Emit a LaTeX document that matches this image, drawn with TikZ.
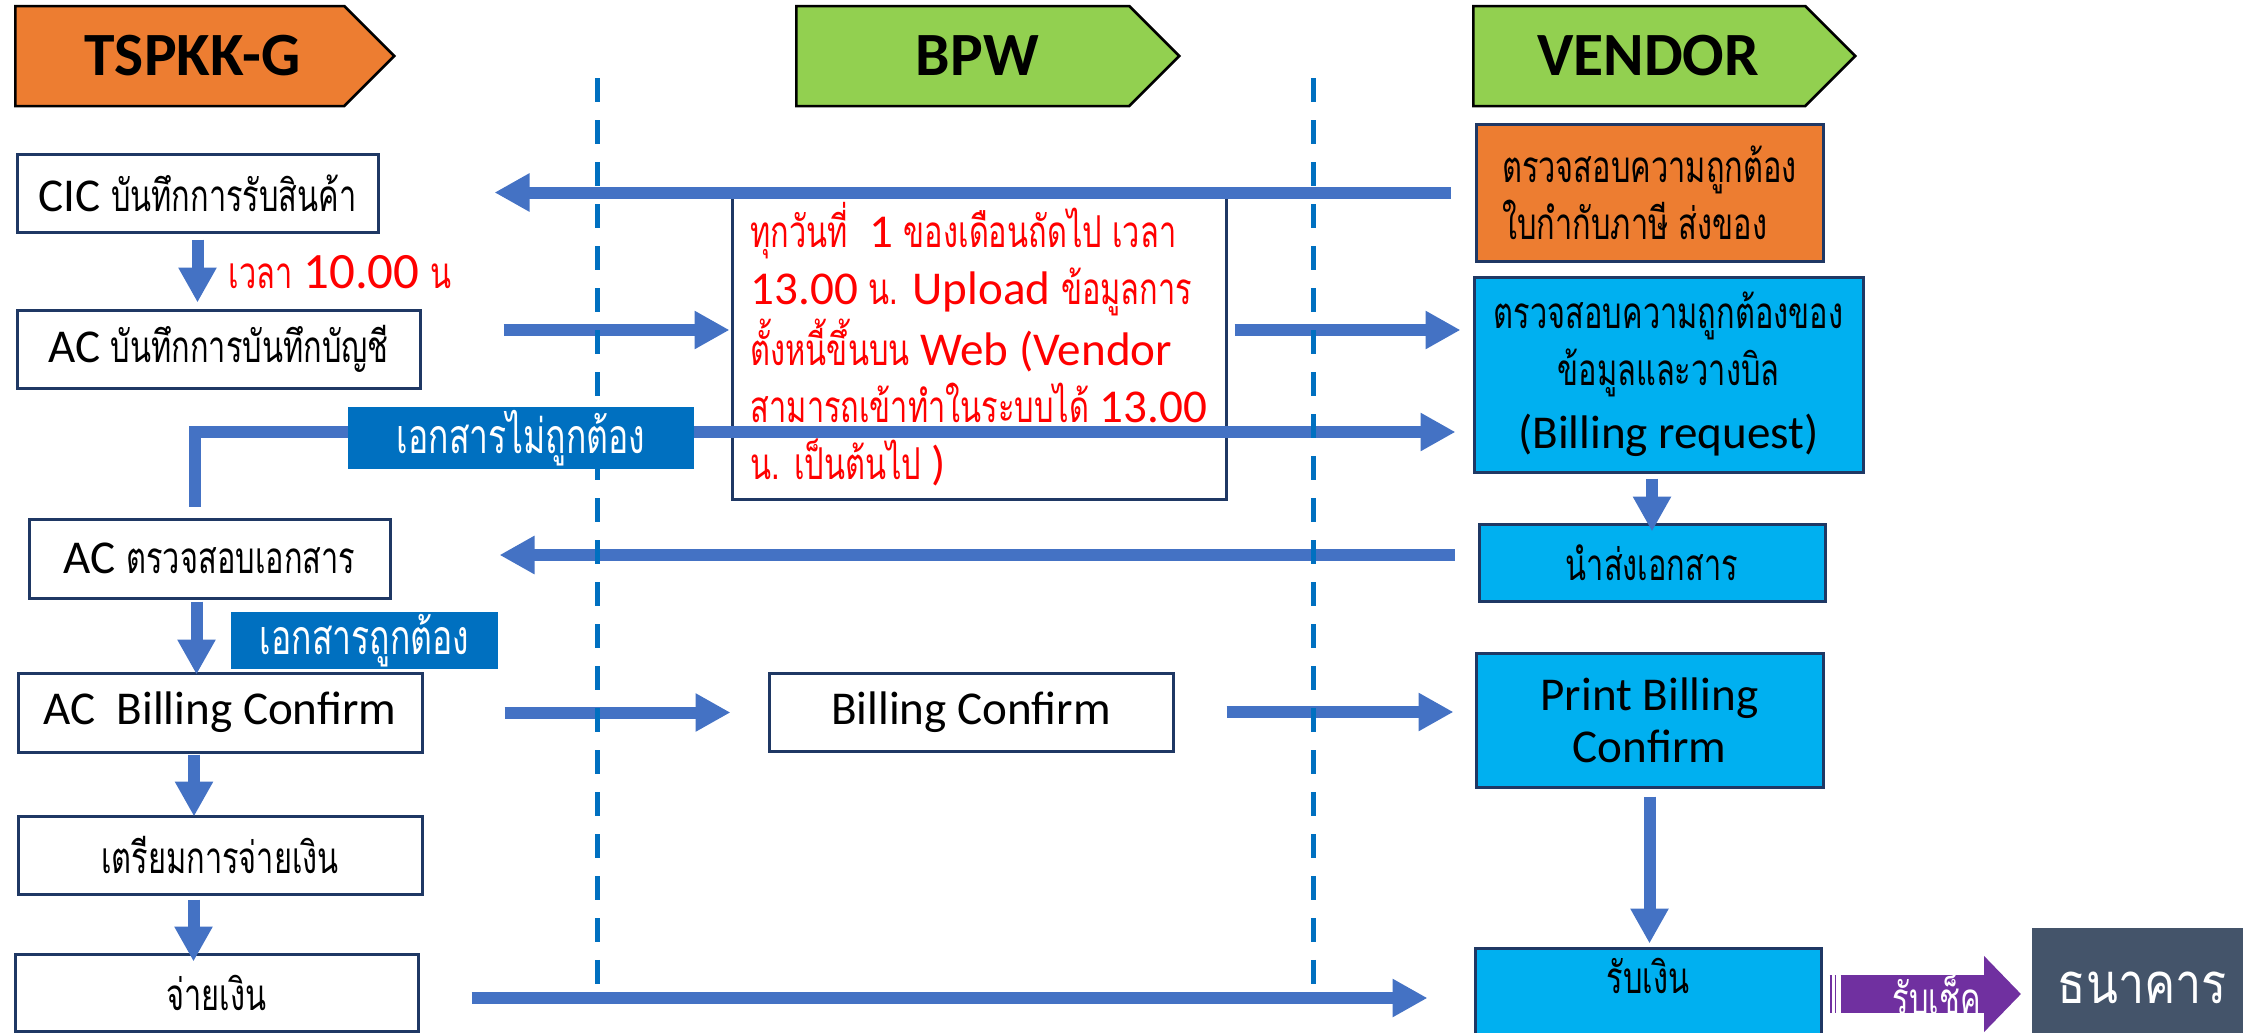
\documentclass[tikz,border=0pt]{standalone}
\usepackage{fontspec}
\setmainfont{Carlito}
\newfontfamily\thaifont[Script=Thai, FakeStretch=0.7]{Loma}
\newfontfamily\bankfont[Script=Thai, FakeStretch=0.83]{Loma}
\usepackage{tikz}
\usetikzlibrary{arrows.meta,shapes.symbols}

\definecolor{navyline}{HTML}{1F3864}
\definecolor{flowblue}{HTML}{4472C4}
\definecolor{laneblue}{HTML}{0070C0}
\definecolor{headorange}{HTML}{ED7D31}
\definecolor{headgreen}{HTML}{92D050}
\definecolor{vendorcyan}{HTML}{00B0F0}
\definecolor{chequepurple}{HTML}{7030A0}
\definecolor{bankslate}{HTML}{44546A}

\newcommand{\thx}[1]{{\thaifont\fontsize{12.5}{16.2}\selectfont #1}}
\newcommand{\thxl}[1]{{\thaifont\fontsize{13.7}{16.2}\selectfont #1}}

\begin{document}
\begin{tikzpicture}[
  x=0.1mm, y=-0.1mm,
  font=\fontsize{13.4}{16.2}\selectfont,
  every node/.style={align=center},
  header/.style={shape=signal, signal to=east, signal pointer angle=90, draw=black, line width=0.25mm, minimum height=10mm, inner sep=0pt, font=\fontsize{17.5}{20}\selectfont\bfseries},
  block/.style={draw=navyline, line width=0.3mm, fill=white, inner sep=0pt},
  vblock/.style={block, fill=vendorcyan},
  note/.style={fill=laneblue, text=white, inner sep=0pt},
  flow/.style={draw=flowblue, line width=1.2mm, -{Triangle[length=3.5mm,width=3.6mm]}},
  cheque/.style={draw=chequepurple, line width=3.8mm, -{Triangle[length=3.7mm,width=7.4mm]}},
  lane/.style={draw=laneblue, line width=0.5mm, dash pattern=on 2.4mm off 1.8mm}]

  \useasboundingbox (0,0) rectangle (2243,1032);

  % Lane headers
  \node[header, fill=headorange, minimum width=37.9mm, anchor=west] (tsp) at (14,56) {\hspace*{2.6mm}TSPKK-G};
  \node[header, fill=headgreen, minimum width=38.3mm, anchor=west] (bpw) at (795,56) {\hspace*{2.9mm}BPW};
  \node[header, fill=headgreen, minimum width=38.2mm, anchor=west] (ven) at (1472,56) {\hspace*{1.8mm}VENDOR};

  % TSPKK-G steps
  \node[block, minimum width=36.1mm, minimum height=7.8mm] (cic) at (197.5,193) {CIC \thx{บันทึกการรับสินค้า}};
  \node[block, minimum width=40.3mm, minimum height=7.8mm] (acbook) at (218.5,349) {AC \thx{บันทึกการบันทึกบัญชี}};
  \node[block, minimum width=36.1mm, minimum height=7.9mm] (acchk) at (209.5,558.5) {AC \thx{ตรวจสอบเอกสาร}};
  \node[block, minimum width=40.4mm, minimum height=7.9mm] (acconf) at (220,712.5) {AC\ \ Billing Confirm};
  \node[block, minimum width=40.4mm, minimum height=7.8mm] (prep) at (220,855) {\thx{เตรียมการจ่ายเงิน}};
  \node[block, minimum width=40.3mm, minimum height=7.7mm] (pay) at (216.5,992.5) {\thx{จ่ายเงิน}};
  \node[text=red] (time) at (340,272) {\thx{เวลา} {\fontsize{14.5}{16.2}\selectfont 10.00} \thx{น}};

  % BPW steps
  \node[block, fill=none, minimum width=49.4mm, minimum height=31mm, align=left, text=red] (notice) at (979,344)
    {\thx{ทุกวันที่}\ \ 1 \thx{ของเดือนถัดไป เวลา}\\
     13.00 \thx{น.} Upload \thx{ข้อมูลการ}\\
     \thx{ตั้งหนี้ขึ้นบน} Web (Vendor\\
     \thx{สามารถเข้าทำในระบบได้} 13.00\\
     \thx{น. เป็นต้นไป} )};
  \node[block, minimum width=40.4mm, minimum height=7.8mm] (bconf) at (971,712) {Billing Confirm};

  % VENDOR steps
  \node[block, fill=headorange, minimum width=34.7mm, minimum height=13.7mm, align=left] (chk) at (1649.5,192.5)
    {\thx{ตรวจสอบความถูกต้อง}\\\thx{ใบกำกับภาษี ส่งของ}};
  \node[vblock, minimum width=38.9mm, minimum height=19.5mm] (breq) at (1668.5,374.5)
    {\thx{ตรวจสอบความถูกต้องของ}\\\thx{ข้อมูลและวางบิล}\\[0.6mm](Billing request)};
  \node[vblock, minimum width=34.6mm, minimum height=7.7mm] (send) at (1652,562.5) {\thx{นำส่งเอกสาร}};
  \node[vblock, minimum width=34.7mm, minimum height=13.4mm] (print) at (1649.5,720) {Print Billing\\[-1.4pt]Confirm};
  \node[vblock, minimum width=34.6mm, minimum height=9.2mm, text height=2.8mm, text depth=3mm] (recv) at (1648,994) {\thx{รับเงิน}};
  \node[fill=bankslate, text=white, minimum width=21.2mm, minimum height=12mm, text width=16mm, inner xsep=2.6mm, align=left, anchor=west] (bank) at (2031,988)
    {{\bankfont\fontsize{16}{20}\selectfont ธนาคาร}};

  % Draw the arrows between the steps
  \draw[flow, shorten <=2.4mm, shorten >=11.5mm] (chk.west) -- (chk.west -| cic.east);
  \draw[flow, shorten <=0.6mm, shorten >=0.6mm] (cic.south) -- (cic.south |- acbook.north);
  \draw[flow, shorten <=8.2mm, shorten >=0.1mm] ([yshift=1.9mm]acbook.east) -- ([yshift=1.9mm]acbook.east -| notice.west);
  \draw[flow, shorten <=0.7mm, shorten >=1.2mm] ([yshift=1.4mm]notice.east) -- ([yshift=1.4mm]notice.east -| breq.west);
  \draw[flow, shorten <=1.1mm, shorten >=1.7mm] ([xshift=-1.45mm]acchk.north) |- ([yshift=-5.75mm]breq.west);
  \draw[flow, shorten <=0.5mm, shorten >=-0.9mm] (send.north |- breq.south) -- (send.north);
  \draw[flow, shorten <=2.3mm, shorten >=10.8mm] ([yshift=0.75mm]send.west) -- ([yshift=0.75mm]send.west -| acchk.east);
  \draw[flow, shorten <=0.2mm, shorten >=-0.3mm] ([xshift=-1.3mm]acchk.south) -- ([xshift=-1.3mm]acchk.south |- acconf.north);
  \draw[flow, shorten <=8.1mm, shorten >=3.7mm] (acconf.east) -- (acconf.east -| bconf.west);
  \draw[flow, shorten <=5.2mm, shorten >=2.1mm] (bconf.east) -- (bconf.east -| print.west);
  \draw[flow, shorten <=0.1mm, shorten >=-0.2mm] ([xshift=-2.6mm]acconf.south) -- ([xshift=-2.6mm]acconf.south |- prep.north);
  \draw[flow, shorten <=0.4mm, shorten >=-0.9mm] ([xshift=-2.65mm]prep.south) -- ([xshift=-2.65mm]prep.south |- pay.north);
  \draw[flow, shorten <=0.8mm, shorten >=0.3mm] (print.south) -- (print.south |- recv.north);
  \draw[flow, shorten <=5.2mm, shorten >=4.6mm] ([yshift=-0.55mm]pay.east) -- ([yshift=-0.55mm]pay.east -| recv.west);

  % Cheque to the bank
  \draw[chequepurple, line width=3.8mm, dash pattern=on 0.25mm off 0.25mm, shorten <=0.7mm, shorten >=19.55mm] (recv.east) -- (recv.east -| bank.west);
  \draw[cheque, shorten <=1.8mm, shorten >=1mm] (recv.east) -- node[text=white, xshift=1mm] (chq) {\thx{รับเช็ค}} (recv.east -| bank.west);

  % Lane separators
  \draw[lane] (597,78) -- (597,988);
  \draw[lane] (1313,78) -- (1313,988);

  % Check results
  \node[note, minimum width=34.6mm, minimum height=6.2mm] (bad) at (521,438) {\thxl{เอกสารไม่ถูกต้อง}};
  \node[note, minimum width=26.7mm, minimum height=5.7mm] (good) at (364.5,640.5) {\thxl{เอกสารถูกต้อง}};
\end{tikzpicture}
\end{document}
